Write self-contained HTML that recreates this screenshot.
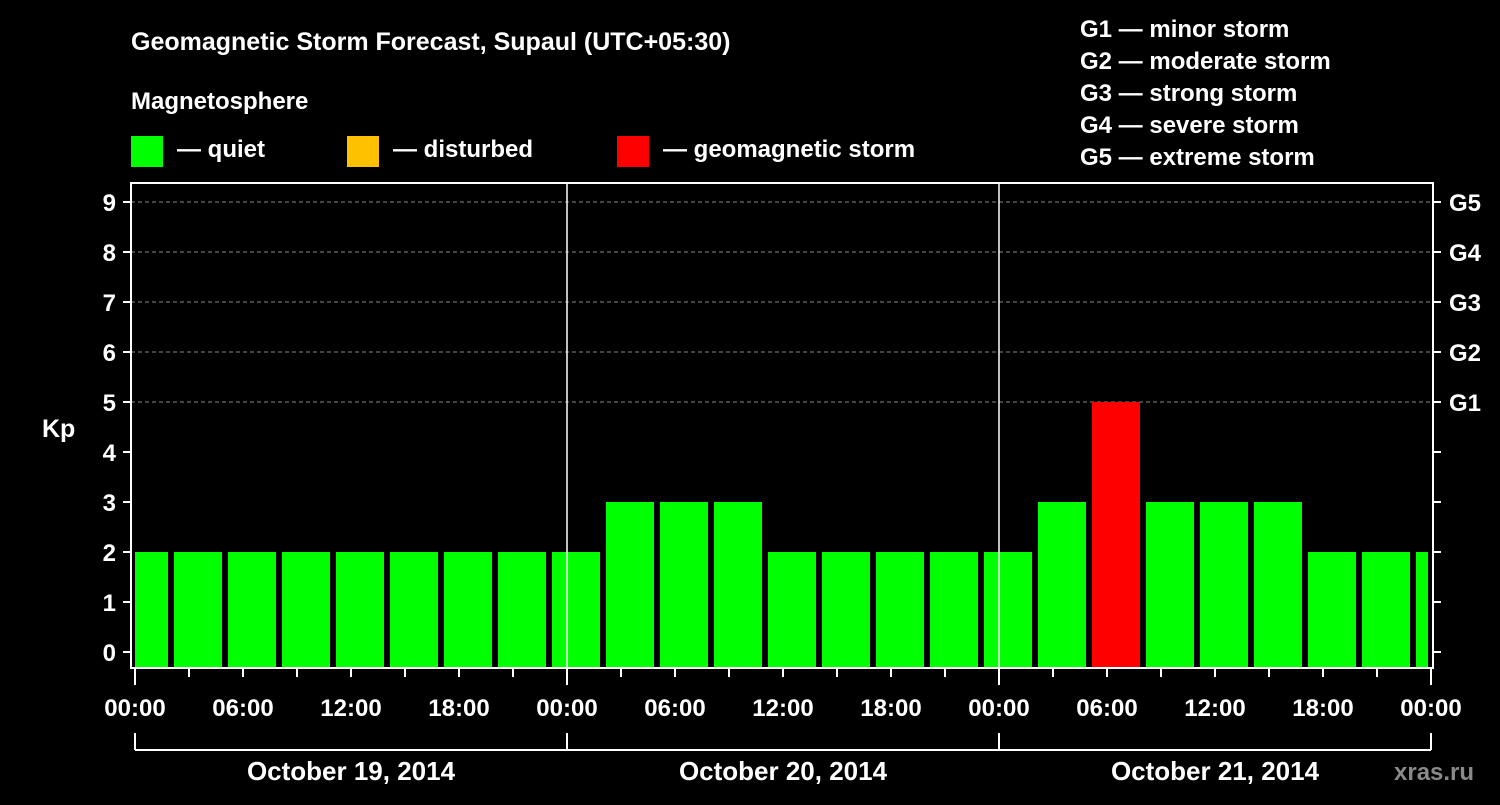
<!DOCTYPE html>
<html><head><meta charset="utf-8"><style>
body{margin:0;background:#000;width:1500px;height:800px;overflow:hidden}
text{font-family:"Liberation Sans",Arial,sans-serif;font-weight:bold;fill:#fff}
</style></head><body>
<svg id="chart" width="1500" height="800" xmlns="http://www.w3.org/2000/svg">
<rect width="1500" height="800" fill="#000"/>
<text x="131" y="50" font-size="25">Geomagnetic Storm Forecast, Supaul (UTC+05:30)</text>
<text x="131" y="109" font-size="24">Magnetosphere</text>
<g><rect x="131" y="136" width="32" height="31" fill="#00ff00"/><text x="177" y="157" font-size="24">— quiet</text></g>
<g><rect x="347" y="136" width="32" height="31" fill="#ffc000"/><text x="393" y="157" font-size="24">— disturbed</text></g>
<g><rect x="617" y="136" width="32" height="31" fill="#ff0000"/><text x="663" y="157" font-size="24">— geomagnetic storm</text></g>
<g font-size="24">
<text x="1080" y="37">G1 — minor storm</text>
<text x="1080" y="69">G2 — moderate storm</text>
<text x="1080" y="101">G3 — strong storm</text>
<text x="1080" y="133">G4 — severe storm</text>
<text x="1080" y="165">G5 — extreme storm</text>
</g>
<text x="42" y="437" font-size="25">Kp</text>
<text x="1394" y="780" font-size="24" fill="#888" style="fill:#8a8a8a">xras.ru</text>
<g id="grid"></g><g id="bars"></g><g id="axes"></g>
</svg>
<script>
const kpValues=[2,2,2,2,2,2,2,2,2,3,3,3,2,2,2,2,2,3,5,3,3,3,2,2,2];
const dayLabels=["October 19, 2014","October 20, 2014","October 21, 2014"];
const hourLabels=["00:00","06:00","12:00","18:00"];
const gLabels=["G1","G2","G3","G4","G5"];
const firstBarCenterHour=0.5;
const NS="http://www.w3.org/2000/svg";
const X0=135,PX_H=18,Y0=652,PX_K=50,L=131,R=1433,T=183,B=668;
const xs=h=>X0+h*PX_H, ys=k=>Y0-k*PX_K;
function mk(tag,attrs,parent){const e=document.createElementNS(NS,tag);for(const k in attrs)e.setAttribute(k,attrs[k]);parent.appendChild(e);return e;}
const grid=document.getElementById('grid'),bars=document.getElementById('bars'),axes=document.getElementById('axes');
for(let k=5;k<=9;k++){const l=mk('line',{x1:L,x2:R,y1:ys(k),y2:ys(k),stroke:'#888','stroke-dasharray':'4,3','stroke-width':1},grid);

}
kpValues.forEach((v,i)=>{const c=xs(firstBarCenterHour+3*i);let x1=Math.max(c-24,L+4),x2=Math.min(c+24,R-5);
const col=v>=5?'#ff0000':(v>=4?'#ffc000':'#00ff00');
const r=mk('rect',{x:x1,y:ys(v),width:x2-x1,height:B-ys(v),fill:col},bars);

});
const f=mk('rect',{x:L,y:T,width:R-L,height:B-T,fill:'none',stroke:'#fff','stroke-width':2},axes);


for(let d=1;d<3;d++){const l=mk('line',{x1:xs(24*d),x2:xs(24*d),y1:T,y2:B,stroke:'#fff','stroke-width':1.5},axes);

}
for(let k=0;k<=9;k++){mk('line',{x1:123,x2:L,y1:ys(k),y2:ys(k),stroke:'#fff','stroke-width':2},axes);
mk('line',{x1:R,x2:1441,y1:ys(k),y2:ys(k),stroke:'#fff','stroke-width':2},axes);
const t=mk('text',{x:116,y:ys(k)+9,'font-size':24,'text-anchor':'end'},axes);t.textContent=k;

}
gLabels.forEach((g,i)=>{const t=mk('text',{x:1449,y:ys(5+i)+9,'font-size':24},axes);t.textContent=g;

});
for(let h=0;h<=72;h+=3){const long=h%24===0;mk('line',{x1:xs(h),x2:xs(h),y1:B,y2:long?685:677,stroke:'#fff','stroke-width':2},axes);}
for(let h=0;h<=72;h+=6){const t=mk('text',{x:xs(h),y:716,'font-size':24,'text-anchor':'middle'},axes);t.textContent=hourLabels[(h/6)%4];

}
mk('line',{x1:xs(0),x2:xs(72),y1:750,y2:750,stroke:'#fff','stroke-width':2},axes);
for(let d=0;d<=3;d++)mk('line',{x1:xs(24*d),x2:xs(24*d),y1:733,y2:750,stroke:'#fff','stroke-width':2},axes);
dayLabels.forEach((s,i)=>{const t=mk('text',{x:xs(24*i+12),y:780,'font-size':26,'text-anchor':'middle'},axes);t.textContent=s;

});
</script>
</body></html>
